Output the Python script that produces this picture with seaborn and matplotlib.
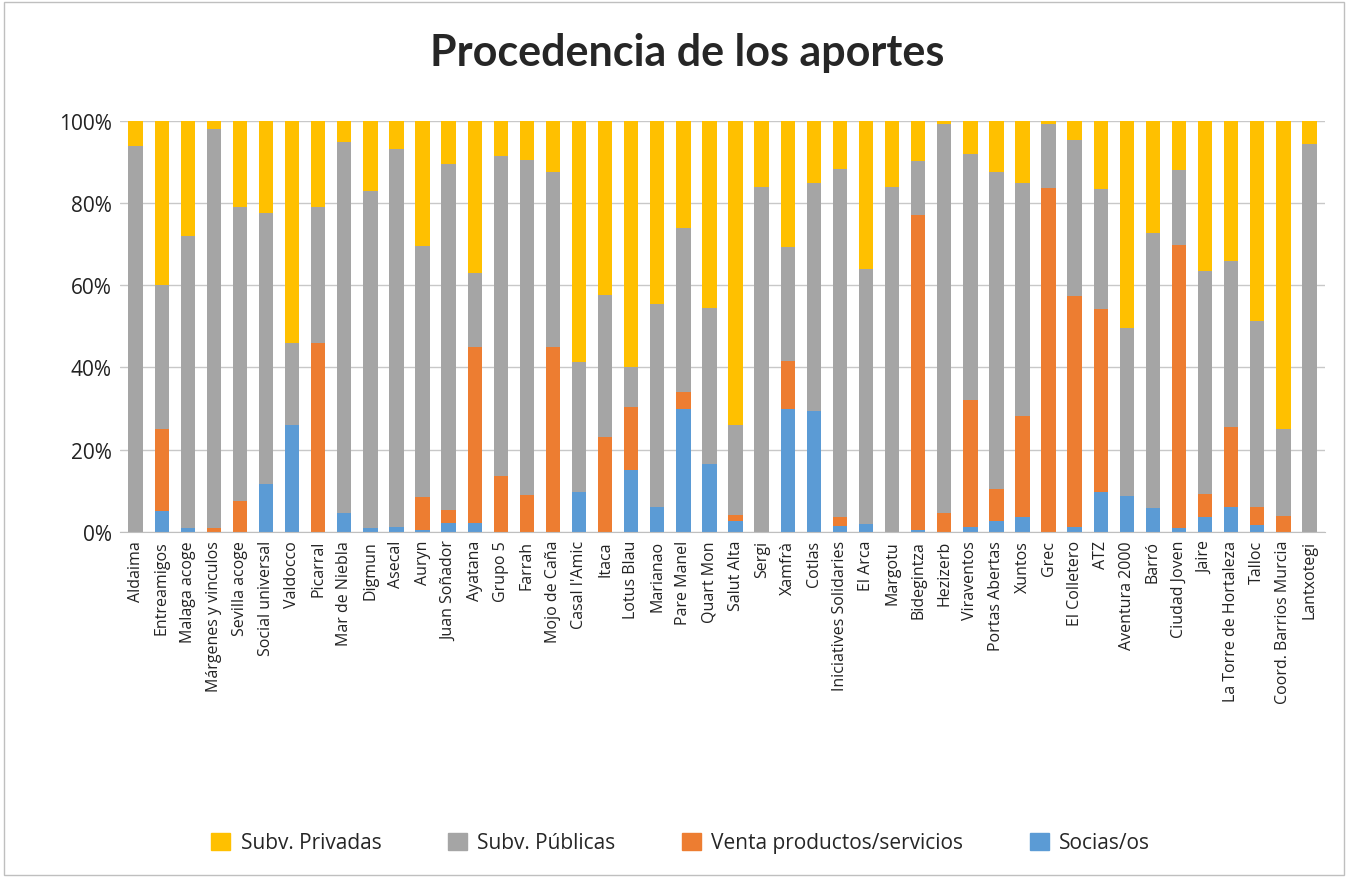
import matplotlib.pyplot as plt
import numpy as np
import pandas as pd
import seaborn as sns
from matplotlib.patches import Patch, Rectangle
from matplotlib.ticker import PercentFormatter

entidades = [
    "Aldaima", "Entreamigos", "Malaga acoge", "Márgenes y vinculos", "Sevilla acoge",
    "Social universal", "Valdocco", "Picarral", "Mar de Niebla", "Digmun", "Asecal",
    "Auryn", "Juan Soñador", "Ayatana", "Grupo 5", "Farrah", "Mojo de Caña",
    "Casal l'Amic", "Itaca", "Lotus Blau", "Marianao", "Pare Manel", "Quart Mon",
    "Salut Alta", "Sergi", "Xamfrà", "Cotlas", "Iniciatives Solidaries", "El Arca",
    "Margotu", "Bidegintza", "Hezizerb", "Viraventos", "Portas Abertas", "Xuntos",
    "Grec", "El Colletero", "ATZ", "Aventura 2000", "Barró", "Ciudad Joven", "Jaire",
    "La Torre de Hortaleza", "Talloc", "Coord. Barrios Murcia", "Lantxotegi",
]
socias = [0, 5, 1, 0, 0, 11.7, 26, 0, 4.5, 1, 1.2, 0.5, 2, 2, 0, 0, 0, 9.7, 0, 15,
          6, 30, 16.6, 2.7, 0, 30, 29.5, 1.4, 1.8, 0, 0.4, 0, 1.2, 2.7, 3.6, 0, 1.2,
          9.7, 8.7, 5.7, 1, 3.6, 5.9, 1.6, 0, 0]
venta = [0, 20, 0, 1, 7.5, 0, 0, 46, 0, 0, 0, 8, 3.3, 43, 13.5, 9, 45, 0, 23, 15.4,
         0, 4, 0, 1.3, 0, 11.6, 0, 2.2, 0, 0, 76.7, 4.6, 30.8, 7.8, 24.7, 83.8, 56.1,
         44.6, 0, 0, 68.8, 5.5, 19.6, 4.5, 3.8, 0]
publicas = [94, 35, 71, 97, 71.5, 66, 20, 33, 90.5, 82, 92, 61, 84.3, 18, 78, 81.5,
            42.6, 31.6, 34.6, 9.7, 49.4, 40, 38, 22, 84, 27.7, 55.4, 84.7, 62.3, 84,
            13.2, 94.6, 60, 77.1, 56.7, 15.4, 38.1, 29.1, 40.9, 67, 18.2, 54.5, 40.5,
            45.3, 21.1, 94.5]
privadas = [6, 40, 28, 2, 21, 22.3, 54, 21, 5, 17, 6.8, 30.5, 10.4, 37, 8.5, 9.5,
            12.4, 58.7, 42.4, 59.9, 44.6, 26, 45.4, 74, 16, 30.7, 15.1, 11.7, 35.9, 16,
            9.7, 0.8, 8, 12.4, 15, 0.8, 4.6, 16.6, 50.4, 27.3, 12, 36.4, 34, 48.6,
            75.1, 5.5]

series = ["Socias/os", "Venta productos/servicios", "Subv. Públicas", "Subv. Privadas"]
colors = {
    "Socias/os": "#5B9BD5",
    "Venta productos/servicios": "#ED7D31",
    "Subv. Públicas": "#A5A5A5",
    "Subv. Privadas": "#FFC000",
}

df = pd.DataFrame(
    {"Entidad": entidades, "Socias/os": socias, "Venta productos/servicios": venta,
     "Subv. Públicas": publicas, "Subv. Privadas": privadas}
)
shares = df[series].div(df[series].sum(axis=1), axis=0) * 100
cumulative = shares.cumsum(axis=1)
cumulative["Entidad"] = df["Entidad"]

sns.set_style("white")
plt.rcParams["font.family"] = ["Open Sans", "DejaVu Sans"]

fig = plt.figure(figsize=(13.48, 8.79), dpi=100)
ax = fig.add_axes([0.089, 0.394, 0.894, 0.467])

# stacked bars: draw the running totals from the top layer down
for name in reversed(series):
    sns.barplot(data=cumulative, x="Entidad", y=name, color=colors[name],
                width=0.55, saturation=1, linewidth=0, ax=ax, zorder=2)

ax.set_ylim(0, 100)
ax.set_xlim(-0.6, len(entidades) - 0.4)
ax.set_yticks(np.arange(0, 101, 20))
ax.yaxis.set_major_formatter(PercentFormatter(decimals=0))
ax.tick_params(axis="y", labelsize=15, length=0, pad=6, labelcolor="#222222")
ax.tick_params(axis="x", labelsize=11.5, length=0, rotation=90, pad=6,
               labelcolor="#222222")
ax.set_xlabel("")
ax.set_ylabel("")
ax.grid(axis="y", color="#C8C8C8", lw=1, zorder=0)
for side in ("left", "right", "top"):
    ax.spines[side].set_visible(False)
ax.spines["bottom"].set_color("#BFBFBF")

fig.text(0.51, 0.94, "Procedencia de los aportes", ha="center", va="center",
         fontsize=31, fontweight="bold", family=["Lato", "DejaVu Sans"])

handles = [Patch(color=colors[n]) for n in reversed(series)]
fig.legend(handles, list(reversed(series)), loc="center", bbox_to_anchor=(0.505, 0.04),
           ncol=4, frameon=False, fontsize=15, handlelength=0.9, handleheight=0.9,
           columnspacing=3.2, handletextpad=0.5)

fig.patches.append(Rectangle((0.003, 0.003), 0.994, 0.994, transform=fig.transFigure,
                             fill=False, edgecolor="#BFBFBF", lw=1))

fig.savefig("out.png", dpi=100)
